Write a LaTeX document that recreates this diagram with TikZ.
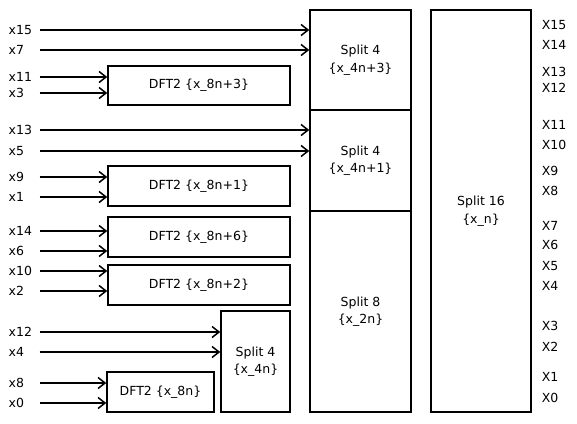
\documentclass[tikz,border=0pt]{standalone}
\usepackage{fontspec}
\setmainfont{DejaVu Sans}
\usepackage{tikz}
\usetikzlibrary{arrows.meta}

\begin{document}
\begin{tikzpicture}[x=1pt, y=-1pt, line width=1.5pt,
		font=\fontsize{12.5}{17.5}\selectfont,
		>={Straight Barb[length=7pt,width=11pt]}]
		\tikzstyle{block}=[draw, rectangle, inner sep=0pt, align=center];
		\tikzstyle{inlbl}=[anchor=west, inner sep=0pt, text width=24pt];
		\tikzstyle{outlbl}=[anchor=west, inner sep=0pt];

		\useasboundingbox (0,0) rectangle (577,423);

		% split blocks
		\node[block, minimum width=101pt, minimum height=100pt] (s43) at (360.5,60) {Split 4\\\{x\_4n+3\}};
		\node[block, minimum width=101pt, minimum height=101pt] (s41) at (360.5,160.5) {Split 4\\\{x\_4n+1\}};
		\node[block, minimum width=101pt, minimum height=201pt] (s8) at (360.5,311.5) {Split 8\\\{x\_2n\}};
		\node[block, minimum width=100pt, minimum height=402pt] (s16) at (481,211) {Split 16\\\{x\_n\}};
		\node[block, minimum width=69pt, minimum height=101pt] (s4) at (255.5,361.5) {Split 4\\\{x\_4n\}};

		% dft2 blocks
		\node[block, minimum width=182pt, minimum height=39pt] (d3) at (199,85.5) {DFT2 \{x\_8n+3\}};
		\node[block, minimum width=182pt, minimum height=40pt] (d1) at (199,186) {DFT2 \{x\_8n+1\}};
		\node[block, minimum width=182pt, minimum height=40pt] (d6) at (199,237) {DFT2 \{x\_8n+6\}};
		\node[block, minimum width=182pt, minimum height=40pt] (d2) at (199,285) {DFT2 \{x\_8n+2\}};
		\node[block, minimum width=107pt, minimum height=40pt] (d0) at (160.5,392) {DFT2 \{x\_8n\}};

		% inputs
		\foreach \n/\y/\t in {15/30/s43, 7/50/s43, 11/77/d3, 3/93/d3,
				13/130/s41, 5/151/s41, 9/177/d1, 1/197/d1,
				14/231/d6, 6/251/d6, 10/271/d2, 2/291/d2,
				12/332/s4, 4/352/s4, 8/383/d0, 0/403/d0} {
			\node[inlbl] (x\n) at (8,\y) {x\n};
			\draw[->] ([xshift=6pt]x\n.east) -- (\t.west |- x\n.east);
		}

		% outputs
		\foreach \n/\y in {15/25, 14/45, 13/72, 12/88, 11/125, 10/145, 9/171, 8/191,
				7/226, 6/245, 5/266, 4/286, 3/326, 2/347, 1/377, 0/398}
			\node[outlbl] (X\n) at (541,\y) {X\n};
	\end{tikzpicture}
\end{document}
